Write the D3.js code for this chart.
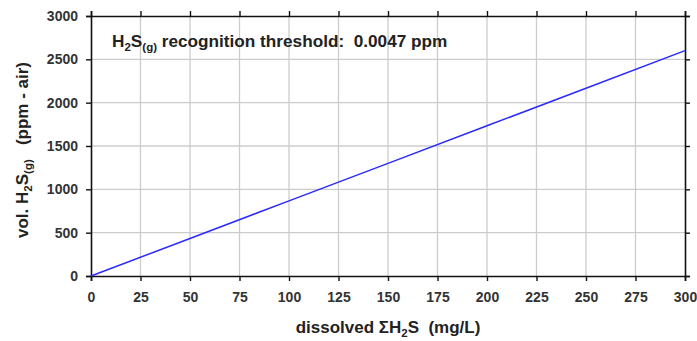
<!DOCTYPE html>
<html>
<head>
<meta charset="utf-8">
<script src="https://cdn.jsdelivr.net/npm/d3@7"></script>
<style>
  body { margin: 0; background: #fff; }
  text { font-family: "Liberation Sans", Arial, sans-serif; white-space: pre; }
</style>
</head>
<body>
<script>
// values
var dissolved = [0, 50, 100, 150, 200, 250, 300];
var volPpm = [0, 433, 867, 1300, 1733, 2167, 2600];
var xTicks = [0, 25, 50, 75, 100, 125, 150, 175, 200, 225, 250, 275, 300];
var yTicks = [0, 500, 1000, 1500, 2000, 2500, 3000];

var chart = {
  'width': 697,
  'height': 341,
  'left': 91,
  'right': 685,
  'top': 16,
  'bottom': 276
};

var svg = d3.select('body').append('svg')
  .attr('width', chart.width)
  .attr('height', chart.height);

var x = d3.scaleLinear().domain([0, 300]).range([chart.left, chart.right]);
var y = d3.scaleLinear().domain([0, 3000]).range([chart.bottom, chart.top]);

// grid
svg.append('g').selectAll('line').data(xTicks.slice(1, -1))
  .enter().append('line')
  .attr('x1', x).attr('x2', x)
  .attr('y1', chart.top).attr('y2', chart.bottom)
  .attr('stroke', '#cccccc').attr('stroke-width', 1.3);
svg.append('g').selectAll('line').data(yTicks.slice(1, -1))
  .enter().append('line')
  .attr('x1', chart.left).attr('x2', chart.right)
  .attr('y1', y).attr('y2', y)
  .attr('stroke', '#cccccc').attr('stroke-width', 1.3);

// axes on all four sides
var axisBottom = svg.append('g')
  .attr('transform', 'translate(0,' + chart.bottom + ')')
  .call(d3.axisBottom(x).tickValues(xTicks).tickSize(5).tickPadding(11).tickFormat(d3.format('d')));
var axisTop = svg.append('g')
  .attr('transform', 'translate(0,' + chart.top + ')')
  .call(d3.axisTop(x).tickValues(xTicks).tickSize(5).tickFormat(''));
var axisLeft = svg.append('g')
  .attr('transform', 'translate(' + chart.left + ',0)')
  .call(d3.axisLeft(y).tickValues(yTicks).tickSize(5).tickPadding(8).tickFormat(d3.format('d')));
var axisRight = svg.append('g')
  .attr('transform', 'translate(' + chart.right + ',0)')
  .call(d3.axisRight(y).tickValues(yTicks).tickSize(5).tickFormat(''));

[axisBottom, axisTop, axisLeft, axisRight].forEach(function(g) {
  g.select('.domain').attr('stroke', '#111').attr('stroke-width', 1.6);
  g.selectAll('.tick line').attr('stroke', '#111').attr('stroke-width', 1.4);
  g.selectAll('.tick text')
    .attr('fill', '#333')
    .style('font-size', '14px')
    .style('font-weight', 'bold')
    .style('font-family', '"Liberation Sans", Arial, sans-serif');
});

// data line
var line = d3.line()
  .x(function(d, i) { return x(dissolved[i]); })
  .y(function(d) { return y(d); });

svg.append('path')
  .datum(volPpm)
  .attr('d', line)
  .attr('fill', 'none')
  .attr('stroke', '#2a2aff')
  .attr('stroke-width', 1.5);

// note inside the plot
var note = svg.append('text')
  .attr('x', 112).attr('y', 47)
  .attr('fill', '#222')
  .style('font-size', '17.2px')
  .style('font-weight', 'bold');
note.append('tspan').text('H');
note.append('tspan').attr('dy', 4).style('font-size', '11.5px').text('2');
note.append('tspan').attr('dy', -4).text('S');
note.append('tspan').attr('dy', 4).style('font-size', '11.5px').text('(g)');
note.append('tspan').attr('dy', -4).text(' recognition threshold:  0.0047 ppm');

// y label
var ylab = svg.append('text')
  .attr('transform', 'translate(28,150) rotate(-90)')
  .attr('text-anchor', 'middle')
  .attr('fill', '#222')
  .style('font-size', '17px')
  .style('font-weight', 'bold');
ylab.append('tspan').text('vol. H');
ylab.append('tspan').attr('dy', 4).style('font-size', '11.5px').text('2');
ylab.append('tspan').attr('dy', -4).text('S');
ylab.append('tspan').attr('dy', 4).style('font-size', '11.5px').text('(g)');
ylab.append('tspan').attr('dy', -4).text('   (ppm - air)');

// x label
var xlab = svg.append('text')
  .attr('x', 388).attr('y', 333)
  .attr('text-anchor', 'middle')
  .attr('fill', '#222')
  .style('font-size', '17px')
  .style('font-weight', 'bold');
xlab.append('tspan').text('dissolved \u03a3H');
xlab.append('tspan').attr('dy', 4).style('font-size', '11.5px').text('2');
xlab.append('tspan').attr('dy', -4).text('S  (mg/L)');
</script>
</body>
</html>
